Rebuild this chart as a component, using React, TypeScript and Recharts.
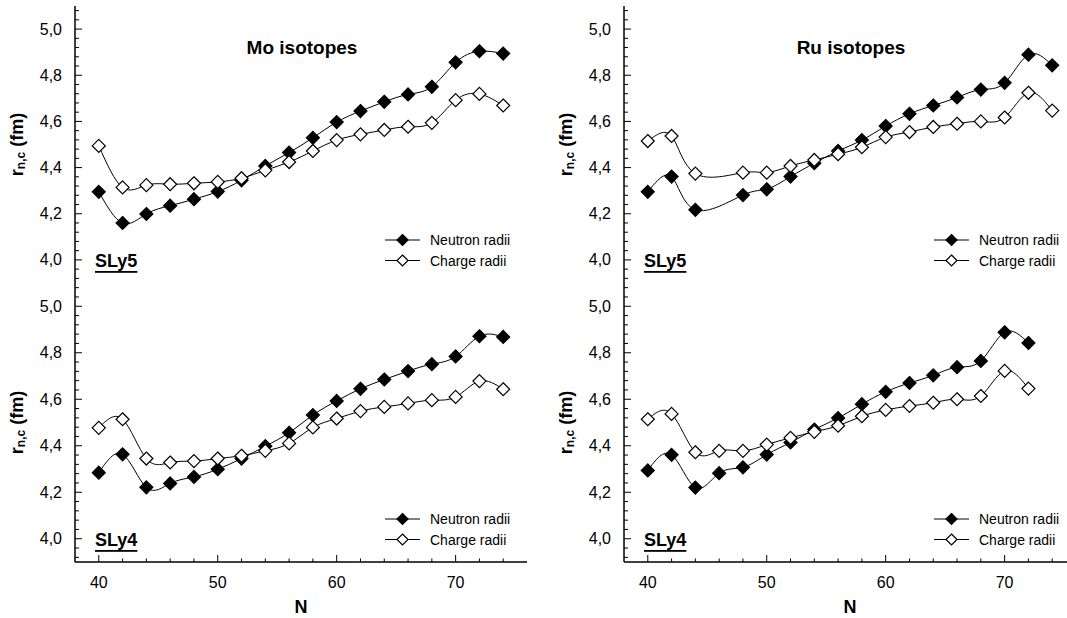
import React from 'react';
import { LineChart, Line, XAxis, YAxis } from 'recharts';

// neutron numbers
const N_MO = [40, 42, 44, 46, 48, 50, 52, 54, 56, 58, 60, 62, 64, 66, 68, 70, 72, 74];
const N_RU_SLY5 = [40, 42, 44, 48, 50, 52, 54, 56, 58, 60, 62, 64, 66, 68, 70, 72, 74];
const N_RU_SLY4 = [40, 42, 44, 46, 48, 50, 52, 54, 56, 58, 60, 62, 64, 66, 68, 70, 72];

// radii (fm)
const MO_SLY5_NEUTRON = [4.295, 4.16, 4.199, 4.235, 4.263, 4.296, 4.345, 4.407, 4.465, 4.529, 4.597, 4.645, 4.685, 4.717, 4.75, 4.856, 4.904, 4.894];
const MO_SLY5_CHARGE = [4.494, 4.314, 4.324, 4.328, 4.332, 4.338, 4.354, 4.388, 4.424, 4.472, 4.519, 4.544, 4.563, 4.577, 4.594, 4.692, 4.719, 4.669];
const RU_SLY5_NEUTRON = [4.295, 4.361, 4.217, 4.281, 4.306, 4.361, 4.419, 4.472, 4.519, 4.58, 4.633, 4.669, 4.704, 4.738, 4.767, 4.889, 4.843];
const RU_SLY5_CHARGE = [4.515, 4.537, 4.374, 4.378, 4.378, 4.407, 4.433, 4.458, 4.488, 4.532, 4.554, 4.576, 4.59, 4.6, 4.617, 4.724, 4.647];
const MO_SLY4_NEUTRON = [4.284, 4.363, 4.221, 4.238, 4.266, 4.299, 4.345, 4.398, 4.456, 4.532, 4.593, 4.645, 4.685, 4.721, 4.751, 4.784, 4.871, 4.868];
const MO_SLY4_CHARGE = [4.477, 4.514, 4.345, 4.328, 4.334, 4.345, 4.357, 4.378, 4.41, 4.479, 4.517, 4.549, 4.567, 4.582, 4.596, 4.61, 4.678, 4.643];
const RU_SLY4_NEUTRON = [4.294, 4.361, 4.22, 4.282, 4.307, 4.362, 4.414, 4.47, 4.519, 4.579, 4.632, 4.67, 4.703, 4.738, 4.765, 4.888, 4.842];
const RU_SLY4_CHARGE = [4.514, 4.537, 4.372, 4.378, 4.378, 4.405, 4.434, 4.46, 4.486, 4.527, 4.554, 4.571, 4.585, 4.6, 4.614, 4.722, 4.646];

const X_TICKS = [40, 42, 44, 46, 48, 50, 52, 54, 56, 58, 60, 62, 64, 66, 68, 70, 72, 74];
const Y_TICKS = [3.92, 3.96, 4.0, 4.04, 4.08, 4.12, 4.16, 4.2, 4.24, 4.28, 4.32, 4.36, 4.4, 4.44, 4.48, 4.52, 4.56, 4.6, 4.64, 4.68, 4.72, 4.76, 4.8, 4.84, 4.88, 4.92, 4.96, 5.0, 5.04, 5.08];

const FONT = 'Arial, "Liberation Sans", sans-serif';
const PLOT_LEFT = 75;
const PLOT_RIGHT = 527;
const CHART_W = 540;

const diamond = (filled: boolean, r = 6.5) => (p: any) => {
  const { cx, cy, index } = p;
  if (cx == null || cy == null) return <g key={index} />;
  return (
    <path
      key={index}
      d={`M${cx},${cy - r}L${cx + r},${cy}L${cx},${cy + r}L${cx - r},${cy}Z`}
      fill={filled ? '#000' : '#fff'}
      stroke="#000"
      strokeWidth={1.2}
    />
  );
};

function YTick(p: any) {
  const { x, y, payload } = p;
  const v = payload.value;
  const major = Math.abs(v * 5 - Math.round(v * 5)) < 1e-6;
  return (
    <g>
      <line x1={x} x2={x + (major ? 7 : 4)} y1={y} y2={y} stroke="#000" strokeWidth={1} />
      {major && (
        <text x={x - 13} y={y} textAnchor="end" dominantBaseline="central" fontSize={16} fontFamily={FONT} fill="#000">
          {v.toFixed(1).replace('.', ',')}
        </text>
      )}
    </g>
  );
}

const xTick = (labels: boolean) => (p: any) => {
  const { x, y, payload } = p;
  const major = payload.value % 10 === 0;
  return (
    <g>
      <line x1={x} x2={x} y1={y} y2={y - (major ? 7 : 3.5)} stroke="#000" strokeWidth={1} />
      {labels && major && (
        <text x={x} y={y + 20} textAnchor="middle" dominantBaseline="central" fontSize={16} fontFamily={FONT} fill="#000">
          {payload.value}
        </text>
      )}
    </g>
  );
};

interface PanelProps {
  ns: number[];
  neutron: number[];
  charge: number[];
  left: number;
  isTop: boolean;
  title?: string;
  sly: string;
}

function Panel({ ns, neutron, charge, left, isTop, title, sly }: PanelProps) {
  const data = ns.map((n, i) => ({ n, neutron: neutron[i], charge: charge[i] }));
  const height = isTop ? 290 : 335;
  const top = isTop ? 0 : 283;
  const plotTop = isTop ? 6 : 0;
  const plotBottom = isTop ? 283 : 279;
  const midX = (PLOT_LEFT + PLOT_RIGHT) / 2;
  const midY = (plotTop + plotBottom) / 2;
  const legX = PLOT_RIGHT - 142;
  const rows = [
    { y: plotBottom - 43, filled: true, label: 'Neutron radii' },
    { y: plotBottom - 22.5, filled: false, label: 'Charge radii' },
  ];
  return (
    <div style={{ position: 'absolute', left, top, width: CHART_W, height }}>
      <LineChart
        width={CHART_W}
        height={height}
        data={data}
        margin={isTop ? { top: 6, right: 13, bottom: 7, left: 0 } : { top: 0, right: 13, bottom: 16, left: 0 }}
      >
        <XAxis
          dataKey="n"
          type="number"
          domain={[38, 76]}
          ticks={X_TICKS}
          interval={0}
          height={isTop ? 0 : 40}
          tickSize={0}
          tickMargin={0}
          tickLine={false}
          tick={xTick(!isTop)}
          axisLine={{ stroke: '#000', strokeWidth: 1.5 }}
        />
        <XAxis
          xAxisId="top"
          orientation="top"
          type="number"
          domain={[38, 76]}
          height={0}
          tick={false}
          tickLine={false}
          axisLine={{ stroke: '#000', strokeWidth: 1.5 }}
        />
        <YAxis
          type="number"
          domain={[3.9, 5.1]}
          ticks={Y_TICKS}
          interval={0}
          width={PLOT_LEFT}
          tickSize={0}
          tickMargin={0}
          tickLine={false}
          tick={YTick}
          axisLine={{ stroke: '#000', strokeWidth: 1.5 }}
        />
        <YAxis
          yAxisId="right"
          orientation="right"
          type="number"
          domain={[3.9, 5.1]}
          width={0}
          tick={false}
          tickLine={false}
          axisLine={{ stroke: '#000', strokeWidth: 1.5 }}
        />
        <Line type="natural" dataKey="neutron" stroke="#000" strokeWidth={1} dot={diamond(true)} activeDot={false} isAnimationActive={false} />
        <Line type="natural" dataKey="charge" stroke="#000" strokeWidth={1} dot={diamond(false)} activeDot={false} isAnimationActive={false} />
      </LineChart>
      <svg width={CHART_W} height={height} style={{ position: 'absolute', left: 0, top: 0, pointerEvents: 'none' }} fontFamily={FONT}>
        {title && (
          <text x={midX + 1} y={47} textAnchor="middle" dominantBaseline="central" fontSize={19} fontWeight="bold">
            {title}
          </text>
        )}
        <text x={95} y={plotBottom - 22} dominantBaseline="central" fontSize={18} fontWeight="bold" textDecoration="underline">
          {sly}
        </text>
        {rows.map((r) => (
          <g key={r.label}>
            <line x1={legX} x2={legX + 35} y1={r.y} y2={r.y} stroke="#000" strokeWidth={1} />
            <path
              d={`M${legX + 17.5},${r.y - 5.5}L${legX + 23},${r.y}L${legX + 17.5},${r.y + 5.5}L${legX + 12},${r.y}Z`}
              fill={r.filled ? '#000' : '#fff'}
              stroke="#000"
              strokeWidth={1.2}
            />
            <text x={legX + 45} y={r.y} dominantBaseline="central" fontSize={14}>
              {r.label}
            </text>
          </g>
        ))}
        <text transform={`translate(17, ${midY}) rotate(-90)`} textAnchor="middle" dominantBaseline="central" fontSize={18} fontWeight="bold">
          r<tspan dy={4} fontSize={12}>n,c</tspan>
          <tspan dy={-4}> (fm)</tspan>
        </text>
        {!isTop && (
          <text x={midX} y={324} textAnchor="middle" dominantBaseline="central" fontSize={18} fontWeight="bold">
            N
          </text>
        )}
      </svg>
    </div>
  );
}

export default function App() {
  return (
    <div style={{ position: 'absolute', left: 0, top: 0, width: 1067, height: 618, overflow: 'hidden', background: '#fff' }}>
      <Panel ns={N_MO} neutron={MO_SLY5_NEUTRON} charge={MO_SLY5_CHARGE} left={0} isTop title="Mo isotopes" sly="SLy5" />
      <Panel ns={N_RU_SLY5} neutron={RU_SLY5_NEUTRON} charge={RU_SLY5_CHARGE} left={549} isTop title="Ru isotopes" sly="SLy5" />
      <Panel ns={N_MO} neutron={MO_SLY4_NEUTRON} charge={MO_SLY4_CHARGE} left={0} isTop={false} sly="SLy4" />
      <Panel ns={N_RU_SLY4} neutron={RU_SLY4_NEUTRON} charge={RU_SLY4_CHARGE} left={549} isTop={false} sly="SLy4" />
    </div>
  );
}
